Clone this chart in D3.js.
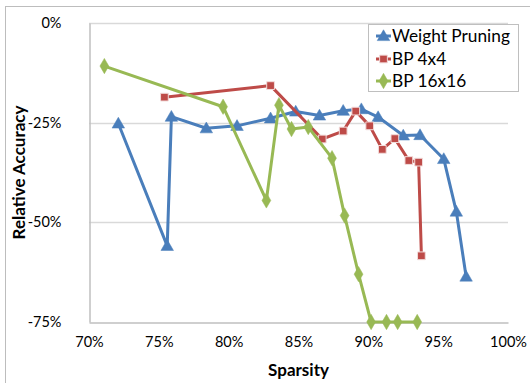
<!DOCTYPE html>
<html>
<head>
<meta charset="utf-8">
<script src="https://cdn.jsdelivr.net/npm/d3@7"></script>
<style>
  body { margin: 0; background: #fff; }
  text { font-family: Lato, "Open Sans", sans-serif; fill: #000; }
</style>
</head>
<body>
<svg id="chart" width="530" height="383"></svg>
<script>
// sparsity (%) / relative accuracy (%)
const weightSparsity = [72.1, 75.6, 75.9, 78.4, 80.6, 83.0, 84.8, 86.5, 88.2, 89.5, 90.7, 92.5, 93.7, 95.4, 96.3, 97.0];
const weightAcc = [-25.2, -55.9, -23.5, -26.4, -25.8, -23.9, -22.2, -23.2, -22.0, -21.6, -23.6, -28.2, -28.1, -34.1, -47.3, -63.6];

const bp4Sparsity = [75.4, 83.0, 86.7, 88.2, 89.1, 90.1, 91.0, 91.9, 92.9, 93.6, 93.8];
const bp4Acc = [-18.6, -15.7, -29.1, -27.1, -22.1, -25.8, -31.7, -29.0, -34.5, -34.9, -58.4];

const bp16Sparsity = [71.1, 79.6, 82.7, 83.6, 84.5, 85.7, 87.4, 88.3, 89.3, 90.2, 91.3, 92.1, 93.5];
const bp16Acc = [-10.8, -21.0, -44.5, -20.6, -26.6, -26.1, -33.9, -48.3, -63.0, -75, -75, -75, -75];

const seriesNames = ['Weight Pruning', 'BP 4x4', 'BP 16x16'];
const xTicks = [70, 75, 80, 85, 90, 95, 100];
const yTicks = [0, -25, -50, -75];

const series = [
  { name: seriesNames[0], xs: weightSparsity, ys: weightAcc, color: '#4a7ebb', shape: 'triangle' },
  { name: seriesNames[1], xs: bp4Sparsity, ys: bp4Acc, color: '#be4b48', shape: 'square' },
  { name: seriesNames[2], xs: bp16Sparsity, ys: bp16Acc, color: '#98b954', shape: 'diamond' }
];

const svg = d3.select('#chart');
const plotLeft = 89, plotRight = 508, plotTop = 23, plotBottom = 322;

const x = d3.scaleLinear().domain([70, 100]).range([plotLeft, plotRight]);
const y = d3.scaleLinear().domain([-75, 0]).range([plotBottom, plotTop]);

// outer chart border
svg.append('rect')
  .attr('x', 5.5).attr('y', 6.5).attr('width', 540).attr('height', 400)
  .attr('fill', 'none').attr('stroke', '#bdbdbd').attr('stroke-width', 1);

// gridlines
svg.append('g')
  .selectAll('line')
  .data(yTicks.filter(d => d !== -75))
  .join('line')
  .attr('x1', plotLeft).attr('x2', plotRight)
  .attr('y1', d => Math.round(y(d)) + 0.5).attr('y2', d => Math.round(y(d)) + 0.5)
  .attr('stroke', '#d9d9d9').attr('stroke-width', 1.5);

// axes
const xAxis = svg.append('g')
  .attr('transform', `translate(0,${plotBottom + 0.5})`)
  .call(d3.axisBottom(x).tickValues(xTicks).tickSize(0).tickPadding(14).tickFormat(d => d + '%'));
xAxis.select('.domain').attr('stroke', '#bfbfbf').attr('stroke-width', 1.5);
xAxis.selectAll('text').attr('font-size', 14.5).style('font-family', 'Lato, sans-serif');

const yAxis = svg.append('g')
  .attr('transform', `translate(${plotLeft + 0.5},0)`)
  .call(d3.axisLeft(y).tickValues(yTicks).tickSize(0).tickPadding(28).tickFormat(d => d + '%'));
yAxis.select('.domain').attr('stroke', '#bfbfbf').attr('stroke-width', 1.5);
yAxis.selectAll('text').attr('font-size', 14.5).style('font-family', 'Lato, sans-serif');

// axis titles
svg.append('text')
  .attr('x', (plotLeft + plotRight) / 2).attr('y', 376)
  .attr('text-anchor', 'middle')
  .attr('font-size', 17).attr('font-weight', 'bold')
  .text('Sparsity');

svg.append('text')
  .attr('transform', `translate(25,${(plotTop + plotBottom) / 2}) rotate(-90)`)
  .attr('text-anchor', 'middle')
  .attr('font-size', 17).attr('font-weight', 'bold')
  .text('Relative Accuracy');

function symbolFor(shape) {
  if (shape === 'triangle') return d3.symbol().type(d3.symbolTriangle).size(68);
  if (shape === 'square') return d3.symbol().type(d3.symbolSquare).size(60);
  return d3.symbol().type(d3.symbolDiamond).size(68);
}

const line = d3.line().x(d => x(d[0])).y(d => y(d[1]));

series.forEach(s => {
  const pts = s.xs.map((v, i) => [v, s.ys[i]]);
  const g = svg.append('g');
  g.append('path')
    .attr('d', line(pts))
    .attr('fill', 'none')
    .attr('stroke', s.color)
    .attr('stroke-width', 3)
    .attr('stroke-linejoin', 'round');
  g.selectAll('path.mark')
    .data(pts)
    .join('path')
    .attr('class', 'mark')
    .attr('transform', d => `translate(${x(d[0])},${y(d[1]) + (s.shape === 'triangle' ? 1 : 0)})`)
    .attr('d', symbolFor(s.shape)())
    .attr('fill', s.color)
    .attr('stroke', s.shape === 'square' ? '#f2dcdb' : s.color)
    .attr('stroke-width', s.shape === 'square' ? 1 : 0.5);
});

// legend
const legend = svg.append('g');
legend.append('rect')
  .attr('x', 368.5).attr('y', 24.5).attr('width', 150).attr('height', 67)
  .attr('fill', '#fff').attr('stroke', '#bfbfbf');

const rowY = [36, 59, 81];
series.forEach((s, i) => {
  const row = legend.append('g').attr('transform', `translate(0,${rowY[i]})`);
  row.append('line')
    .attr('x1', 376).attr('x2', 391)
    .attr('stroke', s.color).attr('stroke-width', 3);
  row.append('path')
    .attr('transform', `translate(383.5,${s.shape === 'triangle' ? 1 : 0})`)
    .attr('d', symbolFor(s.shape)())
    .attr('fill', s.color)
    .attr('stroke', s.shape === 'square' ? '#f2dcdb' : s.color)
    .attr('stroke-width', s.shape === 'square' ? 1 : 0.5);
  row.append('text')
    .attr('x', 392).attr('y', 0)
    .attr('dy', '0.35em')
    .attr('font-size', 17.3)
    .text(s.name);
});
</script>
</body>
</html>
